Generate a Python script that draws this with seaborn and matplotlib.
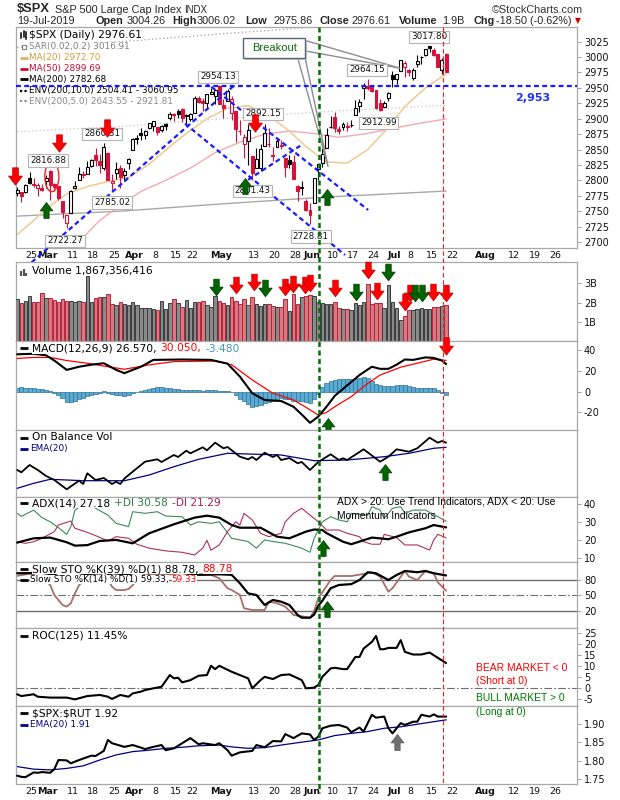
import numpy as np
import pandas as pd
import matplotlib
matplotlib.use("Agg")
import matplotlib.pyplot as plt
import matplotlib.transforms as mtransforms
from matplotlib.path import Path
from matplotlib.patches import Rectangle, Ellipse, Polygon
from matplotlib.lines import Line2D
import seaborn as sns

sns.set_theme(style="white")
plt.rcParams['font.family'] = ['DejaVu Sans']

# ================= DATA (trading-day index 0 = 20-Feb-2019 ... 104 = 19-Jul-2019) =================
opens = [2779.1, 2780.7, 2780.7, 2804.4, 2792.4, 2787.5, 2788.1, 2798.2, 2814.4, 2794.4,
         2790.3, 2766.5, 2730.8, 2747.6, 2787.3, 2799.8, 2810.4, 2810.8, 2822.6, 2840.8,
         2831.3, 2819.7, 2844.5, 2796.0, 2812.7, 2819.7, 2809.4, 2828.3, 2848.6, 2868.2,
         2876.1, 2873.9, 2884.2, 2888.5, 2886.6, 2881.4, 2891.9, 2900.9, 2908.3, 2912.3,
         2916.0, 2904.8, 2898.8, 2910.0, 2934.0, 2929.0, 2925.8, 2940.6, 2937.1, 2952.3,
         2922.2, 2929.2, 2908.9, 2913.0, 2879.6, 2859.8, 2863.1, 2840.2, 2820.1, 2820.4,
         2855.8, 2858.6, 2841.9, 2854.0, 2856.1, 2836.7, 2832.4, 2830.0, 2790.3, 2786.9,
         2766.2, 2751.5, 2762.6, 2818.1, 2828.5, 2852.9, 2885.8, 2903.3, 2882.7, 2886.2,
         2886.8, 2889.8, 2906.7, 2920.6, 2949.6, 2952.7, 2951.4, 2945.8, 2926.1, 2919.7,
         2932.9, 2971.4, 2964.7, 2978.1, 2984.3, 2979.8, 2965.5, 2989.3, 2999.6, 3003.4,
         3017.8, 3012.1, 3005.1, 2978.9, 3004.3]
highs = [2789.9, 2781.5, 2794.2, 2813.5, 2803.1, 2795.8, 2793.7, 2808.0, 2816.9, 2796.4,
         2790.3, 2767.3, 2744.1, 2784.0, 2798.3, 2821.2, 2815.0, 2830.7, 2835.4, 2852.4,
         2843.5, 2860.3, 2846.2, 2809.8, 2829.9, 2825.6, 2819.7, 2836.0, 2869.4, 2872.9,
         2885.2, 2881.3, 2893.2, 2895.9, 2886.9, 2889.7, 2893.4, 2910.5, 2909.6, 2916.1,
         2918.0, 2908.4, 2909.5, 2936.3, 2936.8, 2933.1, 2939.9, 2949.5, 2948.2, 2954.1,
         2931.7, 2947.9, 2937.3, 2913.0, 2898.0, 2876.0, 2891.3, 2840.2, 2852.5, 2858.7,
         2892.2, 2885.5, 2853.9, 2868.9, 2865.5, 2836.7, 2841.4, 2840.5, 2792.0, 2799.0,
         2769.0, 2763.1, 2804.5, 2827.3, 2852.1, 2885.0, 2904.8, 2910.6, 2888.6, 2895.2,
         2894.5, 2897.3, 2930.8, 2931.7, 2958.1, 2964.2, 2954.9, 2946.5, 2932.6, 2929.3,
         2944.0, 2977.9, 2973.2, 2995.8, 2994.0, 2980.8, 2981.9, 3003.0, 3002.3, 3013.9,
         3017.8, 3015.0, 3005.3, 2998.3, 3006.0]
lows = [2774.1, 2764.6, 2779.1, 2794.9, 2789.5, 2775.1, 2782.5, 2787.4, 2767.7, 2782.0,
        2768.7, 2739.1, 2722.3, 2747.6, 2786.7, 2799.8, 2803.5, 2810.8, 2821.7, 2823.3,
        2812.4, 2817.4, 2800.5, 2785.0, 2803.0, 2787.7, 2798.8, 2819.2, 2848.6, 2858.8,
        2865.2, 2867.1, 2883.0, 2880.8, 2873.3, 2879.1, 2882.0, 2898.4, 2896.5, 2900.7,
        2895.5, 2891.9, 2896.4, 2908.5, 2926.1, 2912.8, 2917.6, 2939.4, 2924.1, 2923.4,
        2900.5, 2929.2, 2898.2, 2862.6, 2873.3, 2836.4, 2825.4, 2801.4, 2820.1, 2815.1,
        2855.8, 2854.2, 2831.3, 2854.0, 2851.1, 2805.5, 2820.2, 2801.6, 2766.1, 2776.7,
        2750.5, 2728.8, 2762.6, 2800.9, 2822.5, 2852.9, 2885.5, 2878.5, 2874.7, 2882.0,
        2879.6, 2886.9, 2905.4, 2911.4, 2931.5, 2946.9, 2944.1, 2916.0, 2913.0, 2918.6,
        2929.1, 2952.2, 2955.9, 2978.0, 2968.0, 2970.1, 2963.4, 2984.6, 2988.8, 3001.9,
        3008.8, 3001.2, 2984.3, 2973.1, 2975.9]
closes = [2784.7, 2774.9, 2792.7, 2796.1, 2793.9, 2792.4, 2784.5, 2803.7, 2792.8, 2789.7,
          2771.5, 2748.9, 2743.1, 2783.3, 2791.5, 2810.9, 2808.5, 2822.5, 2832.9, 2832.6,
          2824.2, 2854.9, 2800.7, 2798.4, 2818.5, 2805.4, 2815.4, 2834.4, 2867.2, 2867.2,
          2873.4, 2879.4, 2892.7, 2895.8, 2878.2, 2888.2, 2888.3, 2907.4, 2905.6, 2907.1,
          2900.5, 2905.0, 2908.0, 2933.7, 2927.3, 2926.2, 2939.9, 2943.0, 2945.8, 2923.7,
          2917.5, 2945.6, 2932.5, 2884.1, 2879.4, 2870.7, 2881.4, 2811.9, 2834.4, 2851.0,
          2876.3, 2859.5, 2840.2, 2864.4, 2856.3, 2822.2, 2826.1, 2802.4, 2783.0, 2788.9,
          2752.1, 2744.5, 2803.3, 2826.2, 2843.5, 2873.3, 2886.7, 2885.7, 2879.8, 2891.6,
          2887.0, 2889.7, 2917.8, 2926.5, 2954.2, 2950.5, 2945.4, 2917.4, 2913.8, 2924.9,
          2941.8, 2964.3, 2973.0, 2995.8, 2990.4, 2976.0, 2979.6, 2993.1, 2999.9, 3013.8,
          3014.3, 3004.0, 2984.4, 2995.1, 2976.6]
volume_b = [2.17, 1.96, 2.10, 2.34, 2.01, 2.01, 2.48, 2.22, 2.22, 2.14,
            2.05, 2.20, 2.10, 2.10, 2.05, 2.10, 2.05, 3.40, 2.05, 2.22,
            2.27, 2.27, 2.45, 1.95, 1.87, 2.05, 1.95, 1.85, 2.05, 1.85,
            1.73, 1.73, 1.73, 1.68, 1.61, 2.10, 1.68, 2.00, 2.20, 2.00,
            1.75, 2.15, 1.70, 2.05, 2.05, 2.08, 1.85, 1.78, 2.35, 2.10,
            2.00, 1.85, 2.27, 2.10, 1.95, 2.20, 1.88, 2.30, 1.90, 1.83,
            1.90, 1.90, 1.80, 1.78, 1.78, 2.20, 1.55, 2.45, 1.90, 2.30,
            2.35, 2.40, 2.35, 2.05, 1.98, 1.90, 1.90, 2.05, 1.70, 1.65,
            1.65, 1.60, 2.00, 1.88, 2.05, 2.97, 1.95, 1.98, 1.98, 1.70,
            2.90, 2.05, 1.70, 1.10, 1.30, 1.60, 1.62, 1.68, 1.70, 1.65,
            1.68, 1.75, 1.75, 1.80, 1.87]
macd_hist = [4.0, 4.2, 4.0, 3.6, 3.2, 3.0, 2.4, 1.8, 0.8, -1.0,
             -3.5, -6.5, -9.5, -9.8, -8.6, -7.4, -6.0, -4.5, -3.0, -2.2,
             -1.5, 0.4, -0.8, -2.0, -2.8, -3.6, -4.2, -3.0, -1.6, -0.6,
             0.6, 1.8, 2.8, 3.6, 4.2, 4.6, 4.0, 3.4, 2.6, 2.2,
             1.8, 1.4, 1.2, 1.6, 1.4, 1.0, 1.2, 1.4, 1.2, 0.6,
             0.2, 0.6, -0.6, -3.5, -6.8, -9.4, -11.5, -14.5, -14.0, -13.0,
             -11.0, -9.6, -9.0, -7.0, -6.4, -7.0, -7.4, -8.6, -9.4, -9.0,
             -10.4, -11.0, -7.0, -2.0, 4.5, 8.5, 10.5, 11.5, 12.0, 12.2,
             12.0, 12.0, 12.4, 13.2, 13.8, 13.6, 10.5, 7.5, 6.2, 5.2,
             5.0, 5.6, 6.2, 6.6, 6.2, 5.2, 4.2, 4.0, 3.8, 4.0,
             3.8, 3.2, 1.4, -1.2, -3.48]

# overlays (index, value)
ma20_i = [0, 4, 7, 12, 17, 22, 27, 32, 37, 41, 46, 51, 56, 61, 66, 70, 75, 80, 85, 90, 94, 99, 104]
ma20_v = [2712, 2735, 2754, 2778, 2790, 2798, 2805, 2826, 2855, 2876, 2900, 2917, 2921, 2905, 2880,
          2855, 2830, 2828, 2850, 2886, 2920, 2950, 2972.7]
ma50_i = [12, 15, 20, 25, 30, 36, 42, 48, 54, 60, 66, 72, 78, 84, 90, 97, 104]
ma50_v = [2684, 2700, 2735, 2760, 2782, 2800, 2820, 2845, 2862, 2875, 2880, 2876, 2870, 2875, 2883, 2892, 2899.7]
ma200_i = [0, 25, 50, 75, 104]
ma200_v = [2742, 2750, 2762, 2773, 2782.7]
env5_v = [2879, 2887.5, 2900, 2911.7, 2921.8]
env10_v = [3016, 3025, 3038, 3050, 3061]

macd_i = [0, 4, 7, 9, 12, 15, 18, 21, 24, 26, 28, 30, 33, 40, 47, 51, 54, 57, 60, 64, 67, 69, 71, 73,
          75, 77, 80, 83, 86, 88, 90, 92, 94, 96, 99, 101, 103, 104]
macd_v = [36, 36.5, 35, 30, 21, 24, 26, 27.4, 21, 17.8, 21, 24, 30.6, 31, 30.6, 27, 14.5, -1.5, -8, -9,
          -14.5, -22, -30, -24, -14.5, -4, 6, 16, 24, 22, 22, 26, 31, 30.6, 33, 32.5, 30, 26.6]
sig_i = [0, 4, 8, 12, 17, 22, 26, 32, 38, 48, 52, 57, 62, 67, 70, 73, 75, 77, 81, 85, 88, 93, 97, 101, 104]
sig_v = [32, 33, 33, 30, 27.4, 24, 21.6, 25.8, 29, 29.5, 26, 11.3, -1.5, -8, -15, -22.5, -20, -14.5,
         -4.8, 8, 16, 23.6, 27.4, 31.3, 30.05]

obv_i = [0, 1, 3, 5, 7, 9, 12, 15, 16, 17, 19, 21, 23, 24, 25, 26, 28, 31, 34, 35, 38, 39, 41, 42, 45,
         46, 48, 50, 51, 54, 56, 57, 58, 60, 62, 63, 64, 66, 68, 69, 71, 73, 76, 78, 79, 80, 84, 88, 90,
         92, 95, 97, 100, 102, 103, 104]
obv_v = [27, 24.7, 32, 27, 21, 17, 7.7, 16.3, 13, 23.7, 17, 19, 13, 15.3, 13, 18.5, 25.3, 35.3, 37.7, 35,
         42, 40, 46.3, 43.7, 49.7, 46.7, 54.3, 48.7, 50, 40.3, 37.7, 40, 37, 44.3, 40, 42, 37, 39, 33.7,
         35, 27, 35, 42.7, 37, 38.7, 37, 47.7, 35.3, 40.3, 47.7, 45.3, 48.7, 59.3, 54.3, 56, 54.3]
obv_ema_i = [0, 4, 8, 16, 26, 32, 38, 44, 51, 56, 64, 72, 80, 89, 95, 101, 104]
obv_ema_v = [8.7, 13.7, 17.7, 16.3, 16.3, 22, 30.3, 37.7, 43.7, 43, 42, 36.3, 37, 40.3, 43.7, 48.7, 49.7]

adx_i = [0, 4, 8, 12, 14, 17, 20, 24, 28, 32, 38, 43, 46, 49, 52, 54, 59, 63, 66, 70, 72, 74, 75, 79,
         81, 86, 90, 92, 95, 99, 101, 104]
adx_v = [18.7, 21.1, 21.5, 18.9, 17, 17.3, 19.6, 20.2, 18.3, 23.9, 28.9, 32.6, 33.7, 32.6, 28.5, 27, 27,
         22, 21.1, 24.8, 26, 25.7, 24, 19.2, 17.8, 21.5, 20.6, 22, 24.4, 26.7, 28.5, 27.18]
pdi_i = [0, 1, 4, 6, 8, 10, 12, 13, 14, 17, 19, 22, 24, 27, 28, 31, 34, 36, 40, 42, 44, 47, 49, 52, 54,
         56, 58, 60, 62, 65, 69, 71, 72, 74, 76, 78, 80, 81, 85, 86, 88, 89, 91, 93, 94, 96, 99, 101, 104]
pdi_v = [35, 33.3, 36.8, 32.6, 30.3, 27, 23.3, 27.6, 36.8, 41.4, 37.8, 34, 29.4, 27.6, 35.9, 35, 35.9,
         33.5, 33.1, 28.5, 30.3, 29.4, 30.3, 21.1, 20.2, 19.3, 15.6, 20.2, 19.3, 18.3, 15.6, 13.3, 21.1,
         30.3, 33.1, 31.3, 30.3, 35, 34, 38.7, 36.8, 32.2, 37.8, 38.7, 35, 36.8, 36.8, 34.4, 30.58]
mdi_i = [0, 2, 4, 6, 9, 10, 13, 14, 17, 19, 22, 24, 27, 29, 32, 36, 40, 43, 45, 46, 47, 49, 51, 53, 54,
         55, 57, 59, 61, 64, 65, 67, 69, 71, 73, 75, 78, 80, 83, 84, 86, 88, 89, 92, 94, 97, 100, 101,
         102, 104]
mdi_v = [19.2, 18.3, 19.2, 21.1, 24.8, 28.5, 30.7, 26.7, 24.4, 22.6, 19.6, 22, 21.1, 17.8, 15.6, 14.1,
         13.3, 11.8, 15.6, 20, 14.5, 17.4, 24.8, 30.3, 28.5, 35, 31.3, 23.9, 22, 23.9, 30.3, 35, 37.8,
         34, 30.3, 25.7, 25.7, 23.9, 22, 19.2, 17.8, 17.8, 23.3, 21.5, 17.4, 17.4, 14.6, 20.2, 23.3, 21.29]

sto39_i = [0, 6, 9, 12, 15, 21, 23, 26, 30, 37, 44, 49, 52, 54, 56, 58, 60, 62, 64, 66, 68, 69, 71, 72,
           73, 74, 76, 78, 81, 83, 85, 87, 90, 92, 94, 97, 99, 101, 104]
sto39_v = [93, 94, 90, 82, 88, 96, 88, 90, 96, 97, 90, 91, 90, 73.6, 54, 51, 31.6, 41.3, 38, 31.6, 12.3,
           7, 7, 13, 30, 40, 64, 70.3, 72, 80, 95, 93, 80, 89.7, 97.4, 95, 97.4, 93, 88.78]
sto14_i = [0, 3, 6, 7, 8, 9, 11, 12, 13, 14, 15, 17, 20, 22, 23, 24, 26, 27, 28, 29, 31, 36, 40, 44, 47,
           49, 51, 52, 54, 55, 57, 60, 61, 63, 65, 67, 71, 72, 73, 76, 77, 81, 85, 86, 88, 90, 91, 93,
           94, 95, 97, 99, 101, 102, 104]
sto14_v = [88, 92, 85, 78, 70.3, 51, 31.6, 28.4, 35, 54, 70, 86, 92, 82, 67, 60.6, 60.6, 62.6, 70, 80,
           92, 90, 93, 89.7, 89.7, 83.3, 64, 60.6, 51, 25.3, 22, 22, 38, 35, 28.4, 12.3, 7, 20, 44.6, 80,
           87.7, 87.7, 93, 94.9, 86.4, 57.4, 64, 86.4, 97.4, 86.4, 80, 97.4, 93, 75.5, 59.33]

roc_i = [0, 1, 4, 5, 8, 12, 14, 17, 20, 22, 23, 25, 27, 28, 30, 31, 33, 35, 37, 38, 39, 40, 42, 44, 46,
         47, 48, 49, 52, 56, 57, 59, 60, 62, 64, 66, 69, 70, 72, 73, 74, 76, 77, 79, 80, 82, 83, 84, 86,
         87, 88, 89, 90, 92, 93, 94, 96, 98, 100, 102, 104]
roc_v = [-2.7, -3.5, -2.7, -3.8, -4.2, -4.2, -5, -3.5, -3, -3.8, -4.8, -3, -3.8, -2.3, -1.5, -0.8, 0,
         0.7, 6, 4.5, 4.8, 2.7, 3.7, 5.7, 6, 10.2, 8.7, 10.2, 7.5, 4.5, 0, 3.7, 5.2, 4.2, 6, 6.3, 3.7, 0,
         0.3, 1.5, 5.2, 9, 9.3, 8.7, 8.7, 14.2, 14.2, 18, 21, 23.7, 17.7, 17.7, 18.3, 18.3, 21.8, 16.5,
         15.3, 15.3, 16.2, 13.8, 11.45]

ratio_i = [0, 1, 2, 4, 5, 6, 8, 9, 10, 12, 13, 15, 18, 19, 21, 22, 23, 26, 28, 30, 31, 33, 35, 36, 38,
           40, 42, 44, 45, 48, 49, 51, 52, 54, 57, 58, 60, 62, 64, 65, 67, 69, 71, 72, 73, 74, 76, 78,
           80, 81, 83, 84, 86, 87, 89, 90, 91, 93, 94, 96, 97, 98, 100, 101, 102, 104]
ratio_v = [1.759, 1.756, 1.755, 1.768, 1.767, 1.769, 1.767, 1.777, 1.802, 1.801, 1.793, 1.802, 1.814,
           1.813, 1.827, 1.857, 1.848, 1.838, 1.843, 1.836, 1.832, 1.838, 1.843, 1.829, 1.834, 1.848,
           1.862, 1.845, 1.848, 1.843, 1.848, 1.829, 1.814, 1.823, 1.827, 1.843, 1.837, 1.854, 1.853,
           1.873, 1.862, 1.875, 1.872, 1.857, 1.866, 1.889, 1.896, 1.898, 1.891, 1.878, 1.891, 1.880,
           1.926, 1.918, 1.921, 1.889, 1.875, 1.903, 1.898, 1.907, 1.907, 1.926, 1.921, 1.927, 1.921, 1.921]
ratio_ema_i = [0, 4, 8, 12, 16, 20, 24, 28, 32, 36, 40, 44, 49, 52, 56, 60, 64, 69, 73, 77, 81, 85, 89,
               93, 97, 101, 104]
ratio_ema_v = [1.784, 1.777, 1.775, 1.779, 1.786, 1.802, 1.816, 1.825, 1.829, 1.834, 1.837, 1.841,
               1.843, 1.838, 1.834, 1.836, 1.843, 1.851, 1.857, 1.869, 1.875, 1.880, 1.889, 1.893,
               1.900, 1.907, 1.912]

tick_pos = [3, 7, 13, 18, 23, 28, 33, 38, 42, 49, 57, 62, 67, 71, 76, 81, 86, 91, 95, 100, 105, 113, 120, 125, 130]
tick_txt = ['25', 'Mar', '11', '18', '25', 'Apr', '8', '15', '22', 'May', '13', '20', '28', 'Jun',
            '10', '17', '24', 'Jul', '8', '15', '22', 'Aug', '12', '19', '26']
months = {'Mar', 'Apr', 'May', 'Jun', 'Jul', 'Aug'}

# annotations
price_labels = [('2816.88', 7.5, 2832), ('2860.31', 20.6, 2875.6), ('2785.02', 23, 2763.8),
                ('2722.27', 11.6, 2702), ('2954.13', 48.7, 2968), ('2892.15', 59.6, 2908),
                ('2801.43', 57, 2783), ('2728.81', 71.2, 2708.6), ('2964.15', 84.8, 2979.3),
                ('2912.99', 87.7, 2893.4), ('3017.80', 99.9, 3032.8)]
trendlines = [((3.5, 2667), (52.8, 2955)), ((45.5, 2960), (85.1, 2752)),
              ((40.7, 2892), (79.5, 2679)), ((56.0, 2801), (68.6, 2856))]
breakout_day = 73.2
last_day_line = 103.2

# ================= FIGURE =================
W, H = 620, 800
fig = plt.figure(figsize=(6.2, 8.0), dpi=100)


def fx(x):
    return x / W


def fy(y):
    return 1 - y / H


X0, X1 = 16, 577
XL = (-0.29, 135.74)
WIDE = 7.7
NARROW = 6.4


def panel(top, bot):
    ax = fig.add_axes([fx(X0), fy(bot), (X1 - X0) / W, (bot - top) / H])
    ax.set_facecolor('white')
    for s in ax.spines.values():
        s.set_color('#a8a8a8')
        s.set_linewidth(0.9)
    ax.yaxis.tick_right()
    ax.tick_params(axis='y', which='both', direction='out', length=3, width=0.6, color='#909090',
                   labelsize=7, pad=2, labelcolor='#111111', left=False, labelleft=False)
    ax.tick_params(axis='x', length=0, labelbottom=False)
    ax.grid(False)
    return ax


def sline(ax, xs, ys, color, lw, ls='-', z=3, alpha=1.0):
    df = pd.DataFrame({'x': xs, 'y': ys})
    sns.lineplot(data=df, x='x', y='y', ax=ax, color=color, linewidth=lw, linestyle=ls,
                 estimator=None, sort=False, zorder=z, alpha=alpha, legend=False)
    ax.set_xlabel('')
    ax.set_ylabel('')


def arrow_path(up):
    v = [(-0.33, 1.0), (0.33, 1.0), (0.33, 0.05), (0.8, 0.05), (0.0, -1.0), (-0.8, 0.05),
         (-0.33, 0.05), (-0.33, 1.0)]
    if up:
        v = [(x, -y) for x, y in v]
    codes = [Path.MOVETO] + [Path.LINETO] * 6 + [Path.CLOSEPOLY]
    return Path(v, codes)


def arrows(ax, pts, color, up, size=12.5, edge=None):
    xs = [p[0] for p in pts]
    ys = [p[1] for p in pts]
    ax.scatter(xs, ys, marker=arrow_path(up), s=size ** 2, c=color, edgecolors=edge or color,
               linewidths=0.5, zorder=12, clip_on=False)


def legend_row(ax, x, y, pieces, size, fam='DejaVu Sans', gap=2.0, pad=0.1):
    prev = None
    for t, c in pieces:
        kw = dict(fontsize=size, family=fam, color=c, ha='left', va='center', annotation_clip=False,
                  zorder=15, bbox=dict(boxstyle='square,pad=%s' % pad, fc='white', ec='none'))
        if prev is None:
            prev = ax.annotate(t, xy=(x, H - y), xycoords='figure pixels', **kw)
        else:
            prev = ax.annotate(t, xy=(1, 0.5), xycoords=prev, xytext=(gap, 0),
                               textcoords='offset points', **kw)
    return prev


def icon(x0, x1, y, color, lw=2.0, ls='-'):
    fig.add_artist(Line2D([fx(x0), fx(x1)], [fy(y), fy(y)], transform=fig.transFigure,
                          color=color, lw=lw, ls=ls, zorder=16, solid_capstyle='butt'))


idx = np.arange(len(closes))
o = np.array(opens); h = np.array(highs); l = np.array(lows); c = np.array(closes)
prev_c = np.r_[c[0] - 5, c[:-1]]
up_day = c >= prev_c
RED = '#d4123c'

# ---------- main price panel ----------
axm = panel(27, 248)
sline(axm, ma200_i, env10_v, '#a0a0a0', 0.9, ls=(0, (1, 2)), z=2)
sline(axm, ma200_i, env5_v, '#c4c4c4', 0.9, ls=(0, (1, 2)), z=2)
sline(axm, ma200_i, ma200_v, '#a8a8a8', 1.0, z=2)
sline(axm, ma50_i, ma50_v, '#f2aab2', 1.0, z=2)
sline(axm, ma20_i, ma20_v, '#f0c890', 1.1, z=2)
cols = np.where(up_day, '#000000', RED)
axm.vlines(idx, l, h, colors=cols, lw=0.8, zorder=4)
fills = ['white' if c[k] > o[k] else cols[k] for k in idx]
axm.bar(idx, np.maximum(np.abs(c - o), 0.8), bottom=np.minimum(o, c), width=0.72, color=fills,
        edgecolor=cols, linewidth=0.8, zorder=5)
axm.axhline(2953, color='#1a1aff', lw=1.6, ls=(0, (2.2, 1.5)), zorder=16)
for (a, b) in trendlines:
    axm.plot([a[0], b[0]], [a[1], b[1]], color='#1a1aff', lw=1.6, ls=(0, (2.2, 1.5)), zorder=6,
             clip_on=False)
axm.add_patch(Ellipse((8.4, 2806), width=3.4, height=48.6, fill=False, ec='#ff2020', lw=1.0, zorder=7))
for t, xi, p in price_labels:
    axm.text(xi, p, t, ha='center', va='center', fontsize=6.3, color='#111111', zorder=9,
             bbox=dict(boxstyle='square,pad=0.2', fc='white', ec='#b4b4b4', lw=0.8))
axm.text(125, 2934, '2,953', color='#1f2fff', fontweight='bold', fontsize=8, ha='center', va='center')
# breakout callout
axm.add_patch(Polygon([(68.0, 2999), (69.8, 2999), (75.4, 2822)], closed=True, fc='white',
                      ec='#8c8c8c', lw=1.0, zorder=8, clip_on=False))
axm.add_patch(Polygon([(69.8, 3027), (69.8, 3010), (92.8, 2982)], closed=True, fc='white',
                      ec='#8c8c8c', lw=1.0, zorder=8, clip_on=False))
axm.add_patch(Rectangle((55.2, 2995), 15.0, 32, fc='#c8c8c8', ec='none', zorder=8.5, clip_on=False))
axm.add_patch(Rectangle((54.8, 2999), 15.0, 32, fc='white', ec='#5a6478', lw=1.0, zorder=9, clip_on=False))
axm.text(62.3, 3015, 'Breakout', color='#0a6a0a', fontsize=8, family='Liberation Sans',
         ha='center', va='center', zorder=10)
arrows(axm, [(-0.65, 2807), (10.1, 2861), (21.8, 2885), (57.7, 2893)], '#ff0000', False, 12.5, '#c00000')
arrows(axm, [(7.0, 2752), (55.2, 2791), (75.1, 2773)], '#006400', True, 11.5, '#004000')
axm.set_ylim(2690.3, 3048.8)
axm.set_yticks(list(range(2700, 3026, 25)))
axm.set_yticklabels([str(v) for v in range(2700, 3026, 25)])

# legend main
legend_row(axm, 29, 35, [('\\$SPX (Daily) 2976.61', '#000000')], WIDE, pad=0.0)
legend_row(axm, 29, 46.5, [('SAR(0.02,0.2) 3016.91', '#808080')], NARROW, pad=0.0)
legend_row(axm, 29, 57.5, [('MA(20) 2972.70', '#d8993a')], NARROW, pad=0.0)
legend_row(axm, 29, 68.5, [('MA(50) 2899.69', '#cc0a34')], NARROW, pad=0.0)
legend_row(axm, 29, 79.2, [('MA(200) 2782.68', '#000000')], NARROW, pad=0.0)
legend_row(axm, 29, 90.5, [('ENV(200,10.0) 2504.41 - 3060.95', '#000000')], NARROW, pad=0.0)
legend_row(axm, 29, 101.3, [('ENV(200,5.0) 2643.55 - 2921.81', '#8a8a8a')], NARROW, pad=0.0)
for xx, y0, y1 in [(21, 33, 38), (23.5, 31, 37), (26, 32, 39)]:
    fig.add_artist(Line2D([fx(xx), fx(xx)], [fy(y0), fy(y1)], transform=fig.transFigure,
                          color='#333333', lw=1.4, zorder=16))
fig.add_artist(Line2D([fx(23.5)], [fy(46.5)], transform=fig.transFigure, marker='s', ms=2.5,
                      mfc='white', mec='#808080', mew=0.8, zorder=16))
icon(20, 28, 57.5, '#e0b070')
icon(20, 28, 68.5, '#cc0a34')
icon(20, 28, 79.2, '#000000')
icon(20, 28, 90.5, '#000000', lw=1.6, ls=(0, (1, 1)))
icon(20, 28, 101.3, '#909090', lw=1.6, ls=(0, (1, 1)))

# ---------- volume ----------
axv = panel(262, 341)
vfill = np.where(up_day, '#8a8a8a', '#d47a80')
vedge = np.where(up_day, '#3c3c3c', '#b8243c')
axv.bar(idx, volume_b, width=0.86, color=vfill, edgecolor=vedge, linewidth=0.7, zorder=3)
arrows(axv, [(53.1, 2.92), (57.3, 3.09), (64.9, 2.83), (66.9, 2.97), (69.8, 2.92), (71, 3.0),
             (77.1, 2.74), (85.1, 3.70), (87.2, 2.62), (94, 2.05), (95.2, 2.48), (100.9, 2.57),
             (104, 2.48)], '#ff0000', False, 12.0, '#c00000')
arrows(axv, [(48.2, 2.83), (60.1, 2.74), (82.2, 2.57), (90, 3.61), (96.5, 2.48), (98.1, 2.48)],
       '#006400', False, 12.0, '#004000')
axv.set_ylim(0, 4.11)
axv.set_yticks([1, 2, 3])
axv.set_yticklabels(['1B', '2B', '3B'])
legend_row(axv, 32, 271, [('Volume 1,867,356,416', '#000000')], WIDE, pad=0.0)
for xx, y0 in [(21, 271), (23.5, 268.5), (26, 273)]:
    fig.add_artist(Line2D([fx(xx), fx(xx)], [fy(y0), fy(276)], transform=fig.transFigure,
                          color='#555555', lw=1.6, zorder=16, solid_capstyle='butt'))

# ---------- MACD ----------
axc = panel(341, 430)
axc.bar(idx, macd_hist, width=1.0, color='#5aaad6', edgecolor='#2f7394', linewidth=0.5, zorder=2)
sline(axc, sig_i, sig_v, '#ff0000', 0.9, z=3)
sline(axc, macd_i, macd_v, '#000000', 1.5, z=4)
arrows(axc, [(104, 44)], '#ff0000', False, 12.5, '#c00000')
arrows(axc, [(75.4, -33)], '#006400', True, 11.5, '#004000')
axc.set_ylim(-36.9, 48.8)
axc.set_yticks([-20, 0, 20, 40])
axc.set_yticklabels(['-20', '0', '20', '40'])
legend_row(axc, 32, 348.5, [('MACD(12,26,9) 26.570,', '#000000'), ('30.050,', '#ff0000'),
                            ('-3.480', '#3a9ac0')], WIDE, gap=3.0, pad=0.0)
icon(20, 28, 348.5, '#000000')

# ---------- OBV ----------
axo = panel(430, 497)
sline(axo, obv_ema_i, obv_ema_v, '#000080', 0.9, z=3)
sline(axo, obv_i, obv_v, '#000000', 1.3, z=4)
arrows(axo, [(89.2, 25.3)], '#006400', True, 11.5, '#004000')
axo.set_ylim(0, 67)
axo.set_yticks([])
legend_row(axo, 32, 437.5, [('On Balance Vol', '#000000')], WIDE, pad=0.0)
legend_row(axo, 30, 449, [('EMA(20)', '#000080')], NARROW, pad=0.0)
icon(20, 28, 437.5, '#000000')
icon(20, 28, 449, '#000080')

# ---------- ADX ----------
axa = panel(497, 562)
sline(axa, pdi_i, pdi_v, '#3a8a5a', 0.8, z=2)
sline(axa, mdi_i, mdi_v, '#b03058', 0.8, z=2)
sline(axa, adx_i, adx_v, '#000000', 1.6, z=3)
arrows(axa, [(74.1, 15.6)], '#006400', True, 11.5, '#004000')
axa.set_ylim(7.9, 44.1)
axa.set_yticks([10, 20, 30, 40])
axa.set_yticklabels(['10', '20', '30', '40'])
legend_row(axa, 32, 503, [('ADX(14) 27.18', '#000000'), ('+DI 30.58', '#2e7d40'),
                          ('-DI 21.29', '#a82050')], WIDE, gap=3.0, pad=0.0)
icon(20, 28, 503, '#000000')
fig.text(fx(337), fy(502), 'ADX > 20: Use Trend Indicators, ADX < 20: Use', fontsize=7.4,
         family='Liberation Sans', va='center', ha='left', color='#000000', zorder=17)
fig.text(fx(337), fy(516), 'Momentum Indicators', fontsize=7.4, family='Liberation Sans',
         va='center', ha='left', color='#000000', zorder=17)

# ---------- Slow STO ----------
axs = panel(562, 628)
axs.axhline(80, color='#6e6e6e', lw=1.0, zorder=1)
axs.axhline(20, color='#6e6e6e', lw=1.0, zorder=1)
axs.axhline(50, color='#6e6e6e', lw=0.8, ls=(0, (7, 2, 1.5, 2)), zorder=1)
sline(axs, sto14_i, sto14_v, '#a57068', 1.3, z=2)
sline(axs, sto39_i, sto39_v, '#000000', 1.6, z=3)
arrows(axs, [(75.2, 23.3)], '#006400', True, 11.5, '#004000')
axs.set_ylim(-12.9, 114.8)
axs.set_yticks([20, 50, 80])
axs.set_yticklabels(['20', '50', '80'])
legend_row(axs, 32, 569, [('Slow STO %K(39) %D(1) 88.78,', '#000000'), ('88.78', '#ff0000')],
           WIDE, gap=3.0, pad=0.0)
legend_row(axs, 30, 579.5, [('Slow STO %K(14) %D(1) 59.33,', '#000000'), ('59.33', '#ff0000')],
           NARROW, gap=2.0, pad=0.0)
icon(20, 28, 569, '#000000')
icon(20, 28, 579.5, '#000000')

# ---------- ROC ----------
axr = panel(628, 706)
axr.axhline(0, color='#6e6e6e', lw=0.8, ls=(0, (7, 2, 1.5, 2)), zorder=1)
sline(axr, roc_i, roc_v, '#000000', 1.5, z=3)
axr.set_ylim(-8.0, 27.3)
axr.set_yticks([-5, 0, 5, 10, 15, 20, 25])
axr.set_yticklabels(['-5', '0', '5', '10', '15', '20', '25'])
legend_row(axr, 32, 635.7, [('ROC(125) 11.45%', '#000000')], WIDE, pad=0.0)
icon(20, 28, 635.7, '#000000')

# ---------- $SPX:$RUT ----------
axq = panel(706, 784)
sline(axq, ratio_ema_i, ratio_ema_v, '#000080', 0.9, z=2)
sline(axq, ratio_i, ratio_v, '#000000', 1.5, z=3)
arrows(axq, [(92.0, 1.852)], '#707070', True, 11.5, '#505050')
axq.set_ylim(1.7363, 1.950)
axq.set_yticks([1.75, 1.80, 1.85, 1.90])
axq.set_yticklabels(['1.75', '1.80', '1.85', '1.90'])
legend_row(axq, 32, 713.3, [('\\$SPX:\\$RUT 1.92', '#000000')], WIDE, pad=0.0)
legend_row(axq, 30, 725, [('EMA(20) 1.91', '#000080')], NARROW, pad=0.0)
icon(20, 28, 713.3, '#000000')
icon(20, 28, 725, '#000080')

# ROC notes
for t, y, col in [('BEAR MARKET < 0', 668, '#ff0000'), ('(Short at 0)', 681, '#ff0000'),
                  ('BULL MARKET > 0', 698, '#007a00'), ('(Long at 0)', 712, '#007a00')]:
    fig.text(fx(476), fy(y), t, fontsize=7.4, family='Liberation Sans', color=col, va='center',
             ha='left', zorder=17)

# ---------- x axes ----------
for ax in [axm, axv, axc, axo, axa, axs, axr, axq]:
    ax.set_xlim(*XL)
for ax in [axm, axq]:
    ax.set_xticks([p + 0.45 for p in tick_pos])
    ax.set_xticklabels(tick_txt)
    ax.tick_params(axis='x', length=0, labelbottom=True, labelsize=6.8, pad=2, labelcolor='#111111')
    for lab in ax.get_xticklabels():
        if lab.get_text() in months:
            lab.set_fontweight('bold')

# ---------- vertical signal lines ----------
trans = mtransforms.blended_transform_factory(axm.transData, fig.transFigure)
fig.add_artist(Line2D([breakout_day, breakout_day], [fy(27), fy(793)], transform=trans,
                      color='#007000', lw=1.8, ls=(0, (2.0, 1.4)), zorder=20))
fig.add_artist(Line2D([last_day_line, last_day_line], [fy(27), fy(785)], transform=trans,
                      color='#ff1a1a', lw=0.8, ls=(0, (4, 2.5)), zorder=20))

# ---------- header ----------
fig.text(fx(17), fy(9.5), '\\$SPX', fontsize=9.3, fontweight='bold', family='Liberation Sans', va='center')
fig.text(fx(55), fy(10), 'S&P 500 Large Cap Index', fontsize=7.8, family='Liberation Sans', va='center')
fig.text(fx(184), fy(10), 'INDX', fontsize=7.0, family='Liberation Sans', va='center')
fig.text(fx(583), fy(10), '\u00a9StockCharts.com', fontsize=7.8, family='Liberation Sans',
         va='center', ha='right', color='#333333')
fig.text(fx(17), fy(20.5), '19-Jul-2019', fontsize=7.8, family='Liberation Sans', va='center')
hdr_lab = [('Open', 96), ('High', 172), ('Low', 245), ('Close', 319), ('Volume', 399), ('Chg', 473)]
hdr_val = [('3004.26', 127), ('3006.02', 197), ('2975.86', 273), ('2976.61', 352), ('1.9B', 442),
           ('-18.50 (-0.62%)', 496)]
for t, x in hdr_lab:
    fig.text(fx(x), fy(20.5), t, fontsize=7.8, family='Liberation Sans', fontweight='bold', va='center')
for t, x in hdr_val:
    fig.text(fx(x), fy(20.5), t, fontsize=7.8, family='Liberation Sans', va='center')
fig.text(fx(578), fy(20.5), '\u25bc', fontsize=5.5, color='#cc0000', va='center', ha='center')

fig.savefig('out.png', dpi=100, facecolor='white')
